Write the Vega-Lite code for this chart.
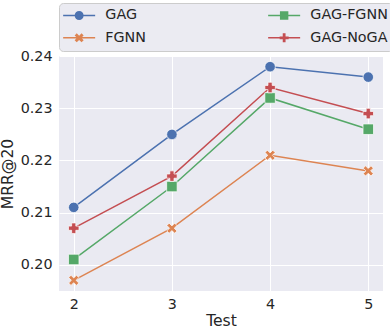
{
  "$schema": "https://vega.github.io/schema/vega-lite/v6.json",
  "width": 324,
  "height": 235,
  "autosize": "none",
  "padding": {"left": 59, "top": 56, "right": 7, "bottom": 41},
  "background": "white",
  "data": {
    "values": [
      {"test": 2, "model": "GAG", "mrr": 0.211},
      {"test": 3, "model": "GAG", "mrr": 0.225},
      {"test": 4, "model": "GAG", "mrr": 0.238},
      {"test": 5, "model": "GAG", "mrr": 0.236},
      {"test": 2, "model": "FGNN", "mrr": 0.197},
      {"test": 3, "model": "FGNN", "mrr": 0.207},
      {"test": 4, "model": "FGNN", "mrr": 0.221},
      {"test": 5, "model": "FGNN", "mrr": 0.218},
      {"test": 2, "model": "GAG-FGNN", "mrr": 0.201},
      {"test": 3, "model": "GAG-FGNN", "mrr": 0.215},
      {"test": 4, "model": "GAG-FGNN", "mrr": 0.232},
      {"test": 5, "model": "GAG-FGNN", "mrr": 0.226},
      {"test": 2, "model": "GAG-NoGA", "mrr": 0.207},
      {"test": 3, "model": "GAG-NoGA", "mrr": 0.217},
      {"test": 4, "model": "GAG-NoGA", "mrr": 0.234},
      {"test": 5, "model": "GAG-NoGA", "mrr": 0.229}
    ]
  },
  "encoding": {
    "x": {
      "field": "test", "type": "quantitative",
      "scale": {"domain": [1.85, 5.15], "nice": false, "zero": false},
      "axis": {"values": [2, 3, 4, 5], "format": "d", "title": "Test", "labelPadding": 6, "titlePadding": 2}
    },
    "y": {
      "field": "mrr", "type": "quantitative",
      "scale": {"domain": [0.19495, 0.24005], "nice": false, "zero": false},
      "axis": {"values": [0.2, 0.21, 0.22, 0.23, 0.24], "format": ".2f", "title": "MRR@20", "labelPadding": 7, "titlePadding": 5}
    }
  },
  "layer": [
    {
      "mark": {"type": "line", "strokeWidth": 1.5},
      "encoding": {
        "detail": {"field": "model", "type": "nominal"},
        "color": {
          "condition": [
            {"test": "datum.model === 'GAG'", "value": "#4C72B0"},
            {"test": "datum.model === 'FGNN'", "value": "#DD8452"},
            {"test": "datum.model === 'GAG-FGNN'", "value": "#55A868"}
          ],
          "value": "#C44E52"
        }
      }
    },
    {
      "mark": {"type": "point", "filled": true, "size": 110, "opacity": 1, "stroke": "white", "strokeWidth": 0.7},
      "encoding": {
        "color": {
          "condition": [
            {"test": "datum.model === 'GAG'", "value": "#4C72B0"},
            {"test": "datum.model === 'FGNN'", "value": "#DD8452"},
            {"test": "datum.model === 'GAG-FGNN'", "value": "#55A868"}
          ],
          "value": "#C44E52"
        },
        "shape": {
          "condition": [
            {"test": "datum.model === 'GAG'", "value": "circle"},
            {"test": "datum.model === 'FGNN'", "value": "M0,-0.445L0.52,-0.965L0.965,-0.52L0.445,0L0.965,0.52L0.52,0.965L0,0.445L-0.52,0.965L-0.965,0.52L-0.445,0L-0.965,-0.52L-0.52,-0.965Z"},
            {"test": "datum.model === 'GAG-FGNN'", "value": "square"}
          ],
          "value": "cross"
        }
      }
    },
    {
      "transform": [{"filter": "datum.test > 100"}],
      "mark": {"type": "point", "filled": true, "size": 196, "opacity": 1, "strokeWidth": 0},
      "encoding": {
        "color": {
          "field": "model", "type": "nominal",
          "scale": {"domain": ["GAG", "FGNN", "GAG-FGNN", "GAG-NoGA"], "range": ["#4C72B0", "#DD8452", "#55A868", "#C44E52"]},
          "legend": {
            "title": null,
            "orient": "none",
            "legendX": 0,
            "legendY": -53,
            "columns": 2,
            "columnPadding": 122,
            "rowPadding": 7.7,
            "padding": 5,
            "symbolSize": 196,
            "labelOffset": 27,
            "labelFontSize": 14.3,
            "labelFont": "DejaVu Sans",
            "labelColor": "#262626",
            "labelLimit": 300,
            "fillColor": "#EBEBF2",
            "strokeColor": "#CCCCCC",
            "cornerRadius": 4,
            "symbolStrokeWidth": 0
          }
        },
        "shape": {
          "field": "model", "type": "nominal",
          "scale": {
            "domain": ["GAG", "FGNN", "GAG-FGNN", "GAG-NoGA"],
            "range": [
              "M-1.143,-0.107H0.6V0.107H-1.143ZM1.686,-0.107H3.429V0.107H1.686ZM0.5,0A0.643,0.643 0 1,1 1.786,0A0.643,0.643 0 1,1 0.5,0Z",
              "M-1.143,-0.107H0.846V0.107H-1.143ZM1.44,-0.107H3.429V0.107H1.44ZM1.143,-0.297L1.49,-0.643L1.786,-0.347L1.44,0L1.786,0.347L1.49,0.643L1.143,0.297L0.796,0.643L0.5,0.347L0.846,0L0.5,-0.347L0.796,-0.643Z",
              "M-1.143,-0.107H0.6V0.107H-1.143ZM1.686,-0.107H3.429V0.107H1.686ZM0.543,-0.6H1.743V0.6H0.543Z",
              "M-1.143,-0.107H0.6V0.107H-1.143ZM1.686,-0.107H3.429V0.107H1.686ZM0.943,-0.643H1.343V-0.2H1.786V0.2H1.343V0.643H0.943V0.2H0.5V-0.2H0.943Z"
            ]
          },
          "legend": {
            "title": null,
            "orient": "none",
            "legendX": 0,
            "legendY": -53,
            "columns": 2,
            "columnPadding": 122,
            "rowPadding": 7.7,
            "padding": 5,
            "symbolSize": 196,
            "labelOffset": 27,
            "labelFontSize": 14.3,
            "labelFont": "DejaVu Sans",
            "labelColor": "#262626",
            "labelLimit": 300,
            "fillColor": "#EBEBF2",
            "strokeColor": "#CCCCCC",
            "cornerRadius": 4,
            "symbolStrokeWidth": 0
          }
        }
      }
    }
  ],
  "config": {
    "view": {"fill": "#EAEAF2", "stroke": null},
    "font": "DejaVu Sans",
    "axis": {
      "grid": true,
      "gridColor": "white",
      "gridWidth": 1,
      "domain": false,
      "ticks": false,
      "labelFont": "DejaVu Sans",
      "labelFontSize": 14.3,
      "labelColor": "#262626",
      "titleFont": "DejaVu Sans",
      "titleFontSize": 15.6,
      "titleFontWeight": "normal",
      "titleColor": "#262626"
    }
  }
}
